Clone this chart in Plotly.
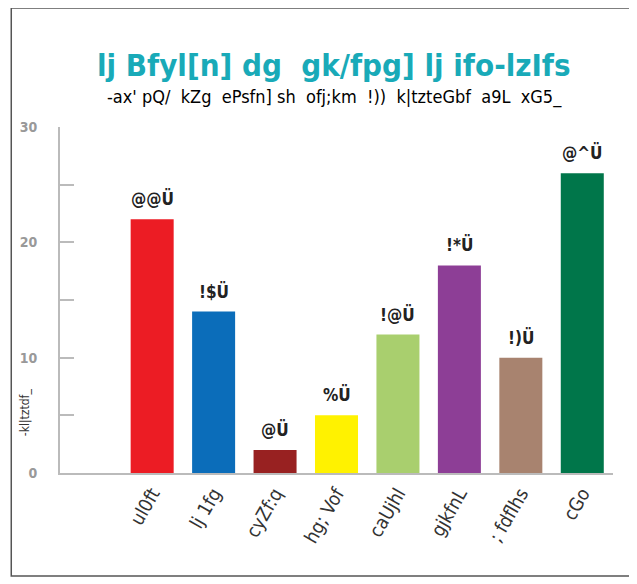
import plotly.graph_objects as go

categories = ["ul0ft", "lj 1fg", "cyZf:q", "hg; Vof", "caUjhl", "gjkfnL", "; fdflhs", "cGo"]
values = [22, 14, 2, 5, 12, 18, 10, 26]
value_labels = ["@@Ü", "!$Ü", "@Ü", "%Ü", "!@Ü", "!*Ü", "!)Ü", "@^Ü"]
colors = ["#EC1C24", "#0B6DBA", "#982121", "#FFF200", "#A9CF6E", "#8D3E96", "#A8836F", "#00764A"]
y_tickvals = [0, 5, 10, 15, 20, 25, 30]
y_ticktext = ["0", "", "10", "", "20", "", "30"]
title_text = "lj Bfyl[n] dg  gk/fpg] lj ifo-lzIfs"
subtitle_text = "-ax' pQ/  kZg  ePsfn] sh  ofj;km  !))  k|tzteGbf  a9L  xG5_"
y_title = "-kl|tztdf_"

FONT = "DejaVu Sans Condensed, Liberation Sans Narrow, sans-serif"

# plot area in page pixels (page has an 8px body margin)
PL, PR, PT, PB = 57, 613, 127, 473
W, H = PR - PL, PB - PT


def px(x):
    return (x - PL) / W


def py(y):
    return (PB - y) / H


fig = go.Figure(go.Bar(
    x=list(range(len(categories))),
    y=values,
    marker=dict(color=colors, line=dict(width=0)),
    width=0.7,
))

annotations = [
    dict(x=i, y=v, xref="x", yref="y", text=t, showarrow=False,
         yanchor="bottom", xanchor="center", yshift=8,
         font=dict(family=FONT, size=17, color="#222222", weight="bold"))
    for i, (v, t) in enumerate(zip(values, value_labels))
]
annotations += [
    dict(text=title_text, xref="paper", yref="paper",
         x=px(332), y=py(65), xanchor="center", yanchor="middle",
         showarrow=False, font=dict(family=FONT, size=31, color="#19AAB8", weight="bold")),
    dict(text=subtitle_text, xref="paper", yref="paper",
         x=px(333), y=py(97), xanchor="center", yanchor="middle",
         showarrow=False, font=dict(family=FONT, size=18, color="#000000")),
    dict(text=y_title, xref="paper", yref="paper",
         x=px(22), y=py(412), xanchor="center", yanchor="middle",
         textangle=-90, showarrow=False, font=dict(family=FONT, size=12, color="#333333")),
]

fig.update_layout(
    width=637, height=584,
    margin=dict(l=PL - 8, r=637 + 8 - PR, t=PT - 8, b=584 + 8 - PB),
    paper_bgcolor="white", plot_bgcolor="white",
    showlegend=False,
    xaxis=dict(
        range=[-1.5, 7.5],
        tickvals=list(range(len(categories))),
        ticktext=categories,
        tickangle=-60,
        tickfont=dict(family=FONT, size=19, color="#333333"),
        showline=True, linecolor="#BBBBBB", linewidth=2,
        showgrid=False, zeroline=False, ticks="",
    ),
    yaxis=dict(
        range=[0, 30],
        tickvals=y_tickvals,
        ticktext=y_ticktext,
        ticks="inside", ticklen=14, tickcolor="#BBBBBB", tickwidth=2,
        tickfont=dict(family=FONT, size=14, color="#999999", weight="bold"),
        ticklabelstandoff=18,
        showline=True, linecolor="#BBBBBB", linewidth=2,
        showgrid=False, zeroline=False,
    ),
    shapes=[dict(
        type="rect", xref="paper", yref="paper",
        x0=px(8), x1=px(650), y0=py(576), y1=py(8),
        line=dict(color="#555555", width=1.5), fillcolor="rgba(0,0,0,0)", layer="below",
    )],
    annotations=annotations,
)

fig.write_html("out.html")
